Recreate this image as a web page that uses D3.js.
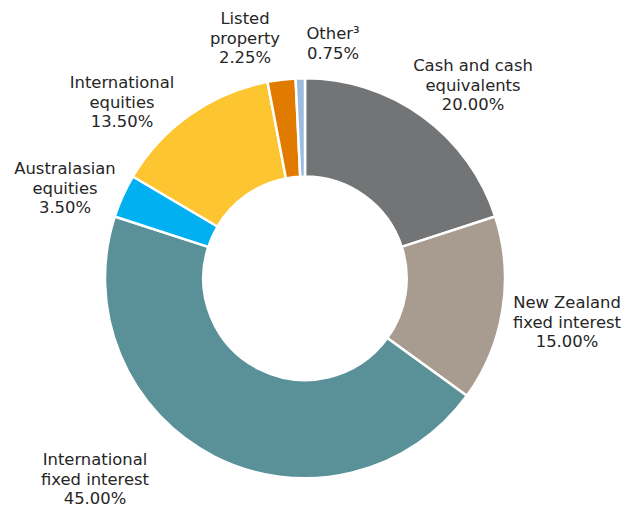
<!DOCTYPE html>
<html><head><meta charset="utf-8">
<script src="https://cdn.jsdelivr.net/npm/d3@7"></script>
<style>body{margin:0;background:#fff}svg{display:block}</style>
</head><body>
<svg id="c" width="630" height="507"></svg>
<script>
const categories = ["Cash and cash equivalents","New Zealand fixed interest","International fixed interest","Australasian equities","International equities","Listed property","Other³"];
const values = [20.00, 15.00, 45.00, 3.50, 13.50, 2.25, 0.75];
const labelLines = [["Cash and cash","equivalents"],["New Zealand","fixed interest"],["International","fixed interest"],["Australasian","equities"],["International","equities"],["Listed","property"],["Other³"]];
const colors = ["#737475","#a89b8f","#5a9199","#00b0f0","#fdc530","#e07b00","#9bbbe0"];
const labelPos = [[473,65],[567,302],[95,459],[65,168],[122,82],[245,18],[333,33]];

const svg = d3.select("#c");
const cx = 305, cy = 278.3, rOut = 200, rIn = 101.7;
const pie = d3.pie().sort(null).value(d => d)(values);
const arc = d3.arc().innerRadius(rIn).outerRadius(rOut);
const g = svg.append("g").attr("transform", `translate(${cx},${cy})`);
g.selectAll("path").data(pie).join("path")
  .attr("d", arc).attr("fill", (d,i) => colors[i])
  .attr("stroke", "#fff").attr("stroke-width", 2.5).attr("stroke-linejoin","round");

const fmt = d3.format(".2f");
const lab = svg.append("g").attr("font-family","Verdana, 'DejaVu Sans', sans-serif")
  .attr("font-size", 16.4).attr("fill", "#262626").attr("text-anchor","middle");
categories.forEach((c, i) => {
  const lines = labelLines[i].concat([fmt(values[i]) + "%"]);
  const t = lab.append("text").attr("x", labelPos[i][0]).attr("y", labelPos[i][1]).attr("dominant-baseline","central");
  lines.forEach((l, j) => t.append("tspan").attr("x", labelPos[i][0]).attr("dy", j === 0 ? 0 : 19.5).text(l));
});
</script>
</body></html>
